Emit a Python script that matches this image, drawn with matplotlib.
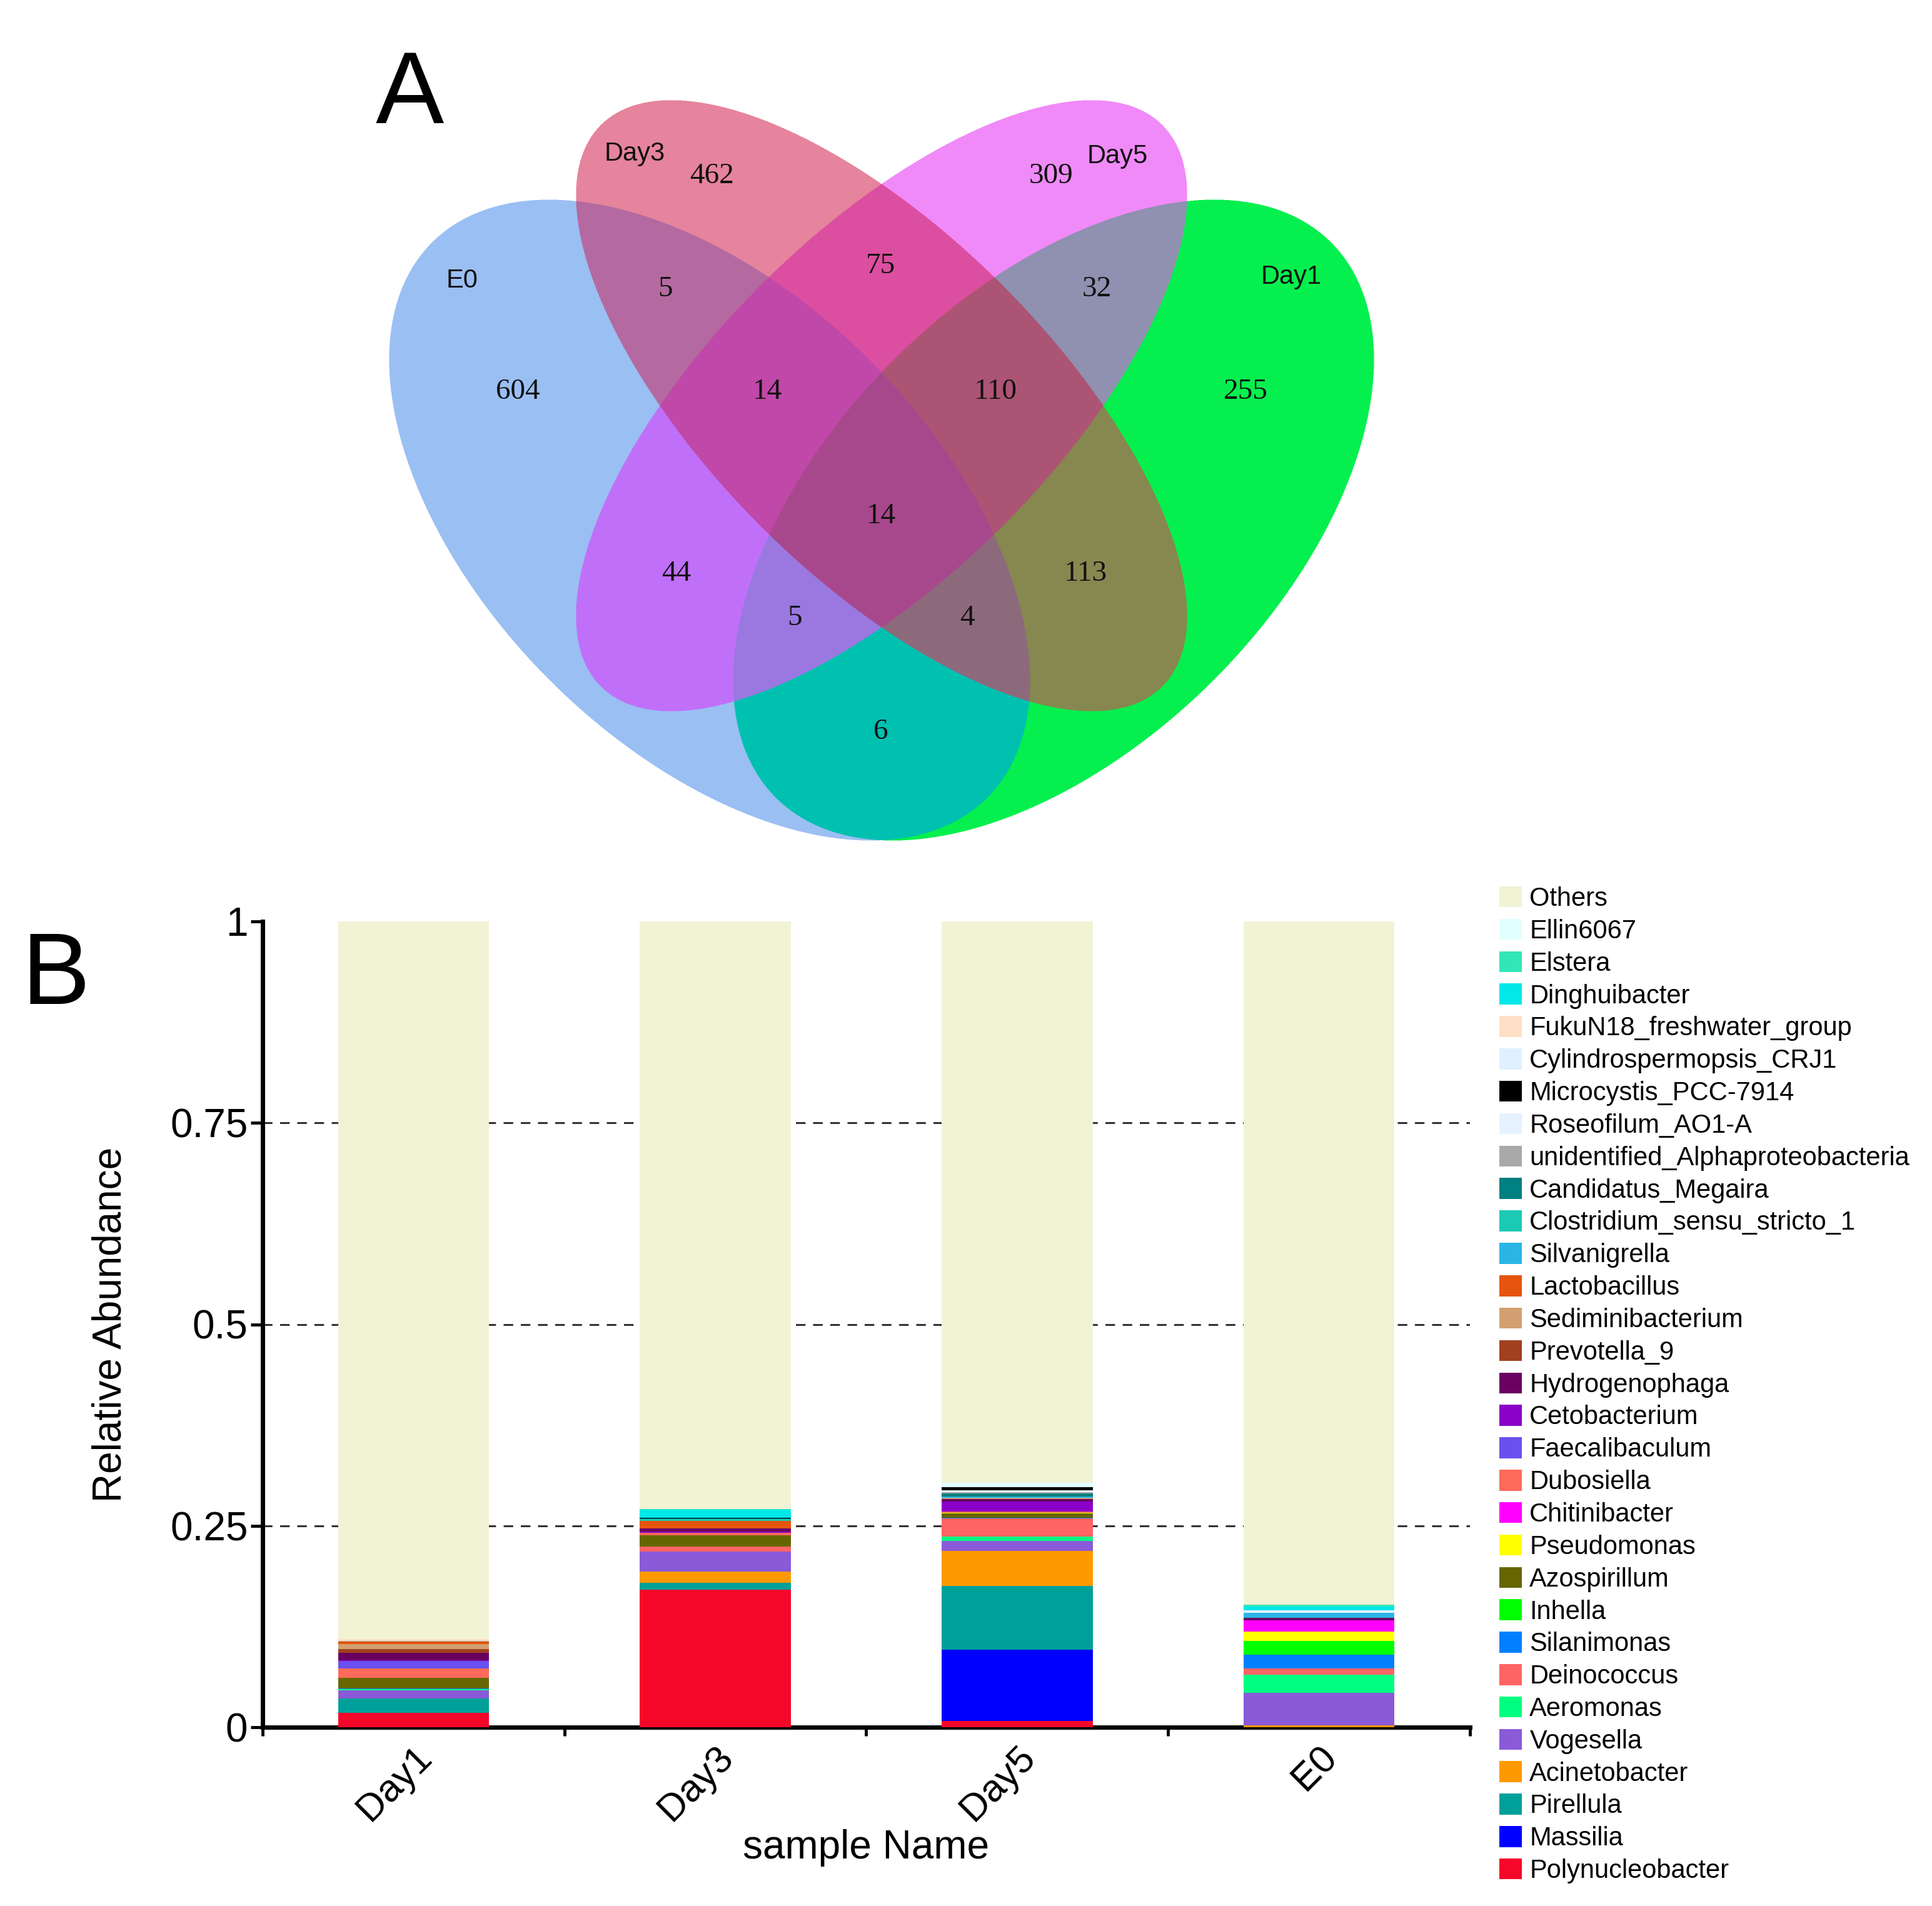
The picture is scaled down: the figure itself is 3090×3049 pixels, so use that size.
import matplotlib
matplotlib.use("Agg")
import matplotlib.pyplot as plt
from matplotlib.patches import Patch
import numpy as np

W, H = 3090, 3049
SANS = ['Liberation Sans', 'DejaVu Sans']
SERIF = ['Liberation Serif', 'DejaVu Serif']

# ---------- panel A data ----------
set_names = ['E0', 'Day3', 'Day5', 'Day1']
# colour of every overlap region, keyed by membership (E0, Day3, Day5, Day1)
region_colors = {
    (1, 0, 0, 0): '#9abff3', (0, 1, 0, 0): '#e5849c', (0, 0, 1, 0): '#f08af8',
    (0, 0, 0, 1): '#05f04e', (1, 1, 0, 0): '#b46aa0', (0, 1, 1, 0): '#dc4ea0',
    (0, 0, 1, 1): '#9090b0', (1, 0, 1, 0): '#c070f8', (0, 1, 0, 1): '#86884f',
    (1, 0, 0, 1): '#00c0b0', (1, 1, 1, 0): '#c048a8', (0, 1, 1, 1): '#ac5474',
    (1, 0, 1, 1): '#9a78e0', (1, 1, 0, 1): '#8c6a7c', (1, 1, 1, 1): '#a8488c',
}
# E0 only, Day3 only, Day5 only, Day1 only, E0&Day3, Day3&Day5, Day5&Day1,
# E0&Day3&Day5, Day3&Day5&Day1, all, E0&Day5, Day3&Day1, E0&Day5&Day1,
# E0&Day3&Day1, E0&Day1
region_counts = [604, 462, 309, 255, 5, 75, 32, 14, 110, 14, 44, 113, 5, 4, 6]

# layout of the venn (pixels, y down)
ell_geom = {            # cx, cy, width, height, angle
    'E0':   (1135, 832, 1256, 724, 45),
    'Day3': (1410, 649, 1270, 546, 45),
    'Day5': (1410, 649, 1270, 546, -45),
    'Day1': (1685, 832, 1256, 724, -45),
}
set_label_pos = {'E0': (739, 449), 'Day3': (1015, 246), 'Day5': (1787, 250), 'Day1': (2065, 443)}
region_pos = [(828, 627), (1139, 282), (1681, 282), (1992, 627), (1064, 463),
              (1409, 426), (1754, 463), (1228, 627), (1592, 627), (1409, 826),
              (1082, 918), (1736, 918), (1271, 989), (1547, 989), (1409, 1171)]

# ---------- panel B data ----------
samples = ['Day1', 'Day3', 'Day5', 'E0']
genera = ['Polynucleobacter', 'Massilia', 'Pirellula', 'Acinetobacter', 'Vogesella',
          'Aeromonas', 'Deinococcus', 'Silanimonas', 'Inhella', 'Azospirillum',
          'Pseudomonas', 'Chitinibacter', 'Dubosiella', 'Faecalibaculum', 'Cetobacterium',
          'Hydrogenophaga', 'Prevotella_9', 'Sediminibacterium', 'Lactobacillus',
          'Silvanigrella', 'Clostridium_sensu_stricto_1', 'Candidatus_Megaira',
          'unidentified_Alphaproteobacteria', 'Roseofilum_AO1-A', 'Microcystis_PCC-7914',
          'Cylindrospermopsis_CRJ1', 'FukuN18_freshwater_group', 'Dinghuibacter',
          'Elstera', 'Ellin6067', 'Others']
genus_colors = ['#f5072a', '#0000ff', '#00a09a', '#ff9900', '#8a5ad8',
                '#00ff80', '#ff6464', '#0080ff', '#00ff00', '#666600',
                '#ffff00', '#ff00ff', '#ff6a5a', '#6a50f0', '#8a00c8',
                '#6a0060', '#a0401e', '#d2a070', '#e6550d',
                '#29b6e6', '#1cc9b5', '#008080',
                '#a9a9a9', '#e6f2ff', '#000000',
                '#e0f0ff', '#fde0c5', '#00e8e8',
                '#33e6b8', '#e0ffff', '#f2f2d5']
day1 = [0.018, 0, 0.018, 0, 0.010, 0.001, 0, 0.001, 0, 0.013,
        0, 0, 0.012, 0.009, 0.001, 0.009, 0.005, 0.006, 0.003,
        0, 0, 0, 0.001, 0, 0, 0, 0.002, 0, 0, 0, 0.891]
day3 = [0.171, 0, 0.008, 0.014, 0.025, 0, 0.006, 0, 0, 0.014,
        0, 0, 0.003, 0, 0.002, 0.004, 0, 0, 0.009,
        0, 0.002, 0.001, 0, 0, 0.001, 0, 0, 0.010, 0.001, 0, 0.729]
day5 = [0.008, 0.088, 0.079, 0.044, 0.012, 0.006, 0.022, 0.001, 0, 0.005,
        0.001, 0, 0.002, 0, 0.012, 0.003, 0, 0.002, 0,
        0.001, 0, 0.004, 0.002, 0.002, 0.004, 0.001, 0, 0, 0, 0.004, 0.697]
e0 = [0, 0, 0, 0.002, 0.041, 0.022, 0.008, 0.017, 0.017, 0,
      0.012, 0.014, 0, 0, 0, 0.003, 0, 0, 0,
      0.006, 0, 0, 0, 0.003, 0, 0, 0, 0.005, 0.002, 0, 0.848]
yticks = [0, 0.25, 0.5, 0.75, 1]
ytick_labels = ['0', '0.25', '0.5', '0.75', '1']

fig = plt.figure(figsize=(W / 100, H / 100), dpi=100)

# ---------- panel A ----------
ax0 = fig.add_axes([0, 0, 1, 1])

# membership map of the four ellipses, 2x supersampled
x0, x1, y0, y1 = 560, 2260, 60, 1400
ss = 2
gx = (np.arange((x1 - x0) * ss, dtype=np.float32) + 0.5) / ss + x0
gy = (np.arange((y1 - y0) * ss, dtype=np.float32) + 0.5) / ss + y0
xx, yy = np.meshgrid(gx, gy)
code = np.zeros(xx.shape, dtype=np.uint8)
for bit, name in enumerate(set_names):
    cx, cy, w, h, ang = ell_geom[name]
    t = np.deg2rad(ang)
    dx, dy = xx - cx, yy - cy
    u = dx * np.cos(t) + dy * np.sin(t)
    v = -dx * np.sin(t) + dy * np.cos(t)
    inside = (u / (w / 2)) ** 2 + (v / (h / 2)) ** 2 <= 1
    code |= (inside.astype(np.uint8) << (3 - bit))
del xx, yy, dx, dy, u, v

lut = np.ones((16, 3), dtype=np.float32)
for key, col in region_colors.items():
    idx = key[0] * 8 + key[1] * 4 + key[2] * 2 + key[3]
    lut[idx] = matplotlib.colors.to_rgb(col)
rgb = lut[code]
rgb = rgb.reshape(rgb.shape[0] // ss, ss, rgb.shape[1] // ss, ss, 3).mean(axis=(1, 3))
ax0.imshow(rgb, extent=(x0, x1, y1, y0), interpolation='nearest', aspect='auto')
ax0.set_xlim(0, W)
ax0.set_ylim(H, 0)
ax0.axis('off')

for name in set_names:
    x, y = set_label_pos[name]
    ax0.text(x, y, name, ha='center', va='center', fontsize=30, family=SANS, color='#111111')
for cnt, (x, y) in zip(region_counts, region_pos):
    ax0.text(x, y, str(cnt), ha='center', va='center', fontsize=34, family=SERIF, color='#111111')
ax0.text(601, 197, 'A', ha='left', va='baseline', fontsize=118, family=SANS)
ax0.text(35, 1606, 'B', ha='left', va='baseline', fontsize=118, family=SANS)

# ---------- panel B ----------
ax = fig.add_axes([420 / W, 1 - 2763 / H, 1931 / W, 1289 / H])
x = np.arange(len(samples))
table = np.array([day1, day3, day5, e0]).T
bottom = np.zeros(len(samples))
for vals, col in zip(table, genus_colors):
    ax.bar(x, vals, 0.5, bottom=bottom, color=col, edgecolor='none', zorder=3)
    bottom += vals

for yv in yticks[1:-1]:
    ax.axhline(yv, color='#333333', lw=2.2, ls=(0, (5, 4)), zorder=1)

ax.set_xlim(-0.5, 3.5)
ax.set_ylim(0, 1)
for s in ['top', 'right']:
    ax.spines[s].set_visible(False)
for s in ['left', 'bottom']:
    ax.spines[s].set_linewidth(5)
ax.set_yticks(yticks)
ax.set_yticklabels(ytick_labels, fontsize=46, family=SANS)
ax.tick_params(axis='y', length=14, width=3.5, pad=3)
ax.set_xticks(x)
ax.set_xticklabels(samples, rotation=45, ha='right', va='top', rotation_mode='anchor',
                   fontsize=44, family=SANS)
ax.set_xticks(np.arange(-0.5, 4, 1), minor=True)
ax.tick_params(axis='x', which='major', length=0, pad=14)
ax.tick_params(axis='x', which='minor', length=10, width=3.5)

ax.set_xlabel('sample Name', fontsize=46, family=SANS)
ax.xaxis.set_label_coords(0.5, -0.15)
ax.xaxis.label.set_va('center')
ax.set_ylabel('Relative Abundance', fontsize=46, family=SANS)
ax.yaxis.set_label_coords(-0.126, 0.5)
ax.yaxis.label.set_va('center')

handles = [Patch(facecolor=c, edgecolor='none') for c in genus_colors][::-1]
labels = genera[::-1]
ax.legend(handles, labels, loc='upper left', bbox_to_anchor=(2398 / W, 1 - 1418 / H),
          bbox_transform=fig.transFigure, frameon=False, prop={'family': SANS, 'size': 30},
          handlelength=0.86, handleheight=0.86, handletextpad=0.3, labelspacing=0.28,
          borderpad=0, borderaxespad=0)

fig.savefig('out.png', dpi=100)
